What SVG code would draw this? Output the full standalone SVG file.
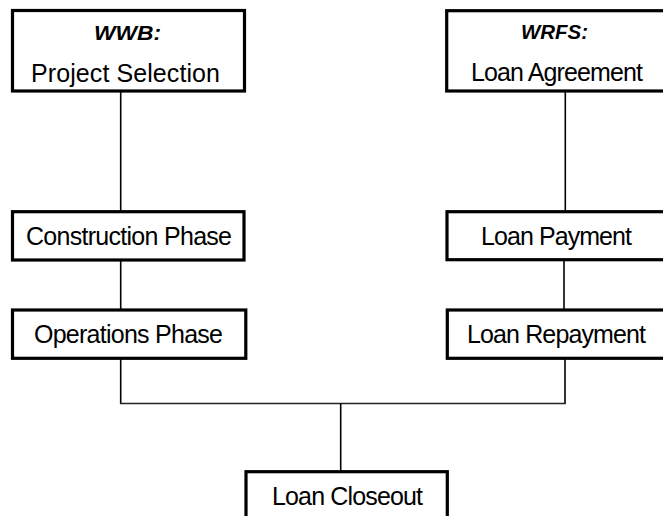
<svg xmlns="http://www.w3.org/2000/svg" width="663" height="516" viewBox="0 0 663 516">
<style>
.box{fill:#fff;stroke:#000;stroke-width:3.2}
.t{font-family:"Liberation Sans",Arial,sans-serif;font-size:25px;fill:#000;text-anchor:middle}
.h{font-family:"Liberation Sans",Arial,sans-serif;font-size:20px;font-weight:bold;font-style:italic;fill:#000;text-anchor:middle}
.c{fill:none;stroke:#000;stroke-width:1.6}
</style>
<rect width="663" height="516" fill="#fff"/>
<g id="connectors">
<line class="c" x1="120.7" y1="91" x2="120.7" y2="211"/>
<line class="c" x1="120.7" y1="260" x2="120.7" y2="310"/>
<line class="c" x1="120.7" y1="358" x2="120.7" y2="403.5"/>
<line class="c" x1="565.3" y1="91" x2="565.3" y2="211"/>
<line class="c" x1="564" y1="260" x2="564" y2="310"/>
<line class="c" x1="565" y1="358" x2="565" y2="403.5"/>
<line class="c" x1="119.9" y1="403.5" x2="565.8" y2="403.5" style="stroke:#222;stroke-width:1.4"/>
<line class="c" x1="340.7" y1="403.5" x2="340.7" y2="472"/>
</g>
<g id="wwb">
<rect class="box" x="12.5" y="10.5" width="232" height="80.5"/>
<text class="h" x="127.5" y="40" textLength="67" lengthAdjust="spacingAndGlyphs">WWB:</text>
<text class="t" x="125.5" y="82" textLength="189">Project Selection</text>
</g>
<g id="wrfs">
<rect class="box" x="446.7" y="10.7" width="220" height="80.3"/>
<text class="h" x="554.5" y="39" textLength="67" lengthAdjust="spacingAndGlyphs">WRFS:</text>
<text class="t" x="557" y="81" textLength="172">Loan Agreement</text>
</g>
<g id="construction">
<rect class="box" x="12.5" y="211.7" width="231.5" height="48.3"/>
<text class="t" x="129" y="245" textLength="206">Construction Phase</text>
</g>
<g id="payment">
<rect class="box" x="447" y="211.7" width="220" height="48"/>
<text class="t" x="556.5" y="245" textLength="151">Loan Payment</text>
</g>
<g id="operations">
<rect class="box" x="12.5" y="310" width="233.3" height="48.3"/>
<text class="t" x="128.5" y="343" textLength="189">Operations Phase</text>
</g>
<g id="repayment">
<rect class="box" x="447.3" y="310" width="220" height="48.3"/>
<text class="t" x="556.5" y="343" textLength="179">Loan Repayment</text>
</g>
<g id="closeout">
<rect class="box" x="246" y="471.7" width="201.3" height="60"/>
<text class="t" x="347.5" y="505" textLength="151">Loan Closeout</text>
</g>
</svg>
